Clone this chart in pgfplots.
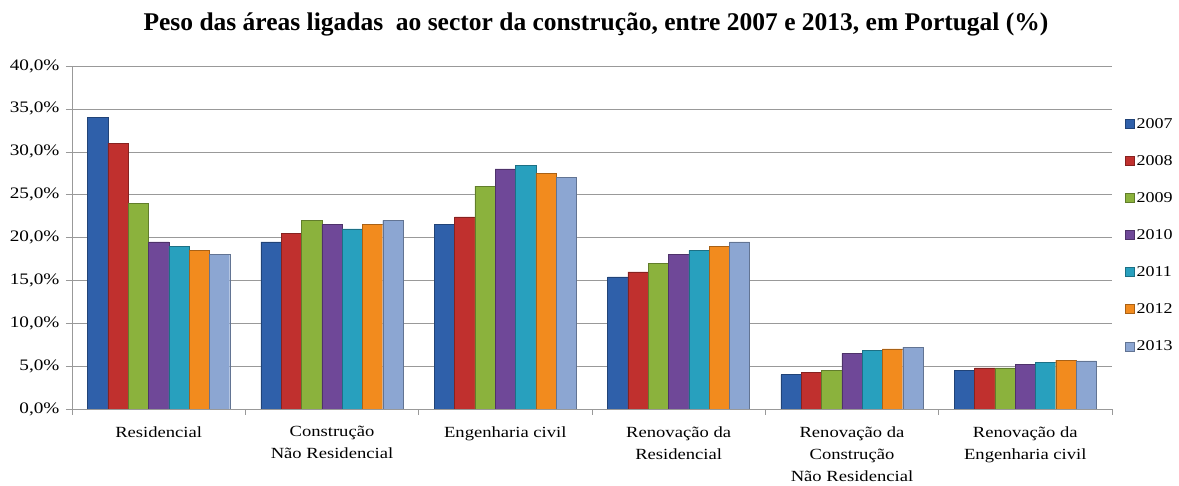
\documentclass[border=0pt]{standalone}
\usepackage{pgfplots}
\pgfplotsset{compat=1.18}
\usepackage{fontspec}
\setmainfont{Liberation Serif}[FakeStretch=1.2]
\newfontfamily\titlefont{Liberation Serif}
\definecolor{c07}{RGB}{47,96,170}
\definecolor{c08}{RGB}{192,48,46}
\definecolor{c09}{RGB}{139,178,61}
\definecolor{c10}{RGB}{111,72,152}
\definecolor{c11}{RGB}{40,160,190}
\definecolor{c12}{RGB}{242,139,30}
\definecolor{c13}{RGB}{140,166,210}
\begin{document}
\begin{tikzpicture}[x=1pt,y=1pt]
\useasboundingbox (0,0) rectangle (1179,486);
\node[font=\titlefont\fontsize{25.5}{30}\selectfont\bfseries, anchor=base] at (596,455) {Peso das áreas ligadas\ \ ao sector da construção, entre 2007 e 2013, em Portugal (\%)};
\begin{axis}[
  at={(72pt,77pt)}, anchor=south west,
  scale only axis, width=1040pt, height=343pt,
  ybar=0pt, bar width=20.3pt,
  xmin=-0.5, xmax=5.5, ymin=0, ymax=40,
  ytick={0,5,...,40},
  xtick={0,...,5},
  xticklabels={Residencial, Construção\\Não Residencial, Engenharia civil, Renovação da\\Residencial, Renovação da\\Construção\\Não Residencial, Renovação da\\Engenharia civil},
  xticklabel style={align=center, font=\fontsize{15.5}{22}\selectfont, yshift=-8pt},
  minor xtick={-0.5,0.5,...,5.5},
  major x tick style={draw=none},
  minor x tick style={gray!80, thin},
  minor tick length=6pt,
  major tick length=6pt,
  tick align=outside,
  ytick style={gray!80, thin},
  ymajorgrids, grid style={gray!80, thin},
  axis x line*=bottom, axis y line*=left,
  axis line style={gray!80, thin},
  /pgf/number format/assume math mode=true,
  yticklabel={\pgfmathprintnumber[fixed,fixed zerofill,precision=1,use comma]{\tick}\%},
  yticklabel style={font=\fontsize{16}{18}\selectfont, xshift=-3pt},
  legend style={draw=none, at={(1,0.5)}, anchor=west, xshift=10pt, yshift=2pt, font=\fontsize{15}{18}\selectfont, row sep=21.6pt, /tikz/every even column/.append style={column sep=1pt}},
  legend cell align=left,
  legend image code/.code={\fill[#1] (0pt,-4pt) rectangle (9pt,5pt);},
  every axis plot/.append style={line width=0.4pt},
]
\addplot[fill=c07, draw=c07!70!black] coordinates {(0,34.0) (1,19.5) (2,21.5) (3,15.4) (4,4.0) (5,4.5)};
\addplot[fill=c08, draw=c08!70!black] coordinates {(0,31.0) (1,20.5) (2,22.4) (3,16.0) (4,4.3) (5,4.8)};
\addplot[fill=c09, draw=c09!70!black] coordinates {(0,24.0) (1,22.0) (2,26.0) (3,17.0) (4,4.5) (5,4.8)};
\addplot[fill=c10, draw=c10!70!black] coordinates {(0,19.5) (1,21.5) (2,28.0) (3,18.0) (4,6.5) (5,5.2)};
\addplot[fill=c11, draw=c11!70!black] coordinates {(0,19.0) (1,21.0) (2,28.4) (3,18.5) (4,6.8) (5,5.4)};
\addplot[fill=c12, draw=c12!70!black] coordinates {(0,18.5) (1,21.5) (2,27.5) (3,19.0) (4,7.0) (5,5.7)};
\addplot[fill=c13, draw=c13!70!black] coordinates {(0,18.0) (1,22.0) (2,27.0) (3,19.5) (4,7.2) (5,5.6)};
\legend{2007,2008,2009,2010,2011,2012,2013}
\end{axis}
\end{tikzpicture}
\end{document}
